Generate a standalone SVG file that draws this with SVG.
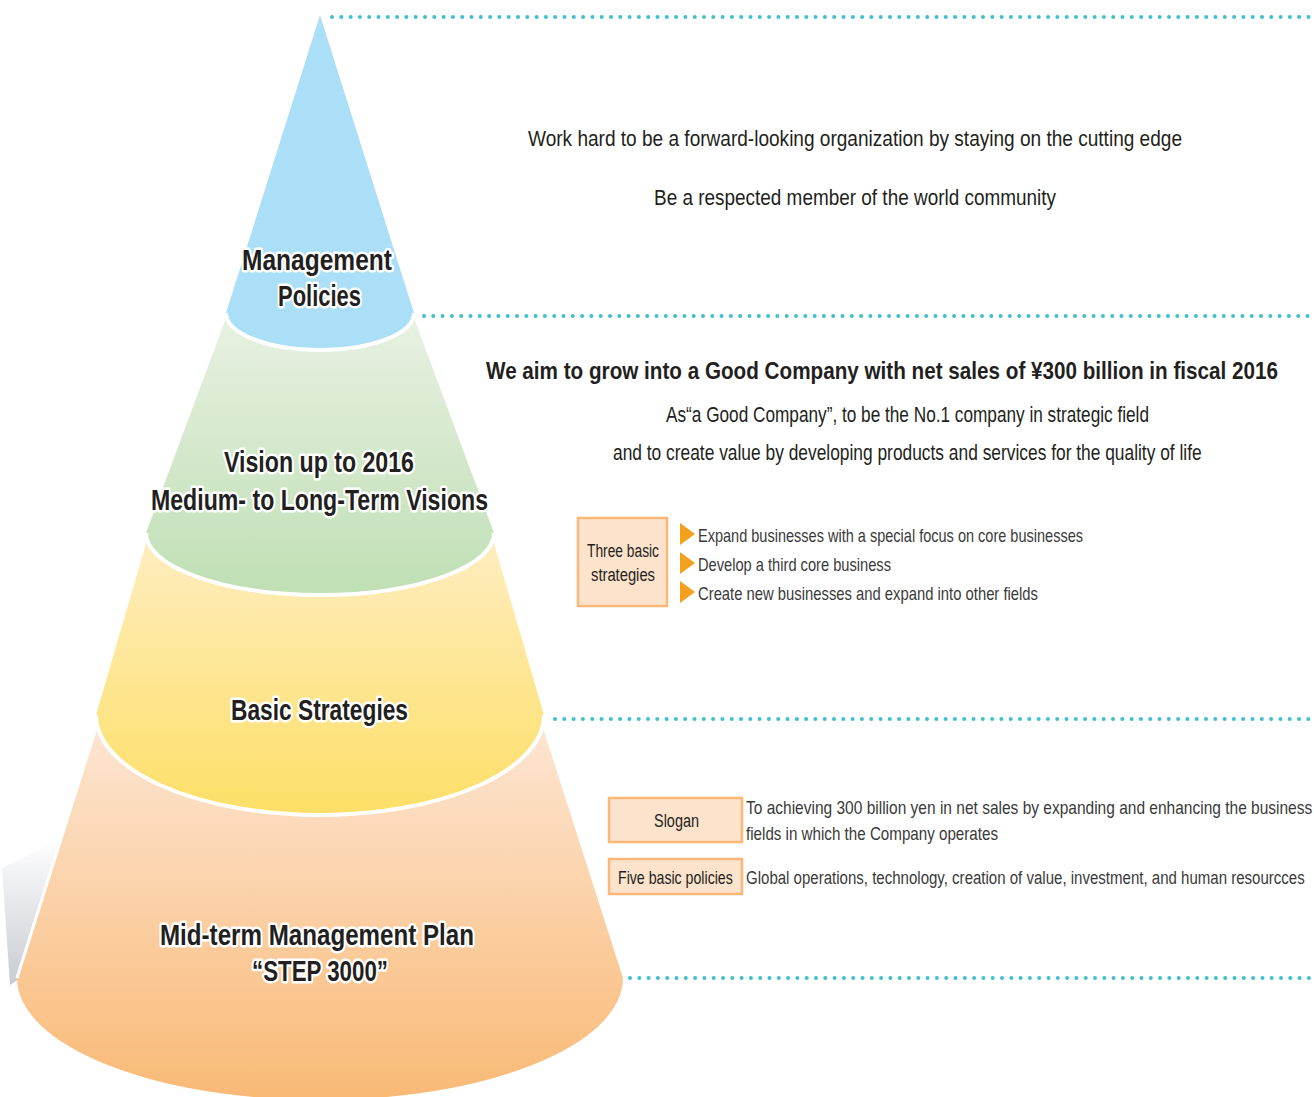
<svg xmlns="http://www.w3.org/2000/svg" width="1314" height="1097" viewBox="0 0 1314 1097">
<style>
.dot{stroke:#3fc0cc;stroke-width:4;stroke-linecap:round;stroke-dasharray:0 9.3;fill:none}
.rim{fill:none;stroke:#fff;stroke-width:4}
.lbl{font-family:"Liberation Sans",Arial,sans-serif;font-weight:bold;font-size:29px;fill:#231f20;stroke:#fff;stroke-width:5;stroke-linejoin:round;paint-order:stroke;text-anchor:start}
.t{font-family:"Liberation Sans",Arial,sans-serif;font-size:22px;fill:#231f20}
.tb{font-family:"Liberation Sans",Arial,sans-serif;font-size:24px;font-weight:bold;fill:#231f20}
.s{font-family:"Liberation Sans",Arial,sans-serif;font-size:19px;fill:#3a3a3a}
.bx{fill:#fde3cc;stroke:#f9b77a;stroke-width:2.5}
.bt{font-family:"Liberation Sans",Arial,sans-serif;font-size:18px;fill:#231f20}
.tri{fill:#f5a01c}
</style>
<defs>
<linearGradient id="gGreen" x1="0" y1="0" x2="0" y2="1"><stop offset="0" stop-color="#e8f1e2"/><stop offset="1" stop-color="#bfdfb4"/></linearGradient>
<linearGradient id="gYellow" x1="0" y1="0" x2="0" y2="1"><stop offset="0" stop-color="#feedc0"/><stop offset="1" stop-color="#fddf66"/></linearGradient>
<linearGradient id="gOrange" x1="0" y1="0" x2="0" y2="1"><stop offset="0" stop-color="#fde5d2"/><stop offset="1" stop-color="#f9b975"/></linearGradient>
<linearGradient id="gShadow" x1="0" y1="0" x2="0" y2="1"><stop offset="0" stop-color="#ffffff"/><stop offset="1" stop-color="#c9cbd3"/></linearGradient>
</defs>

<g id="connectors">
<line class="dot" x1="332" y1="17" x2="1314" y2="17"/>
<line class="dot" x1="424" y1="316" x2="1314" y2="316"/>
<line class="dot" x1="555" y1="719" x2="1314" y2="719"/>
<line class="dot" x1="630" y1="978" x2="1314" y2="978"/>
</g>

<g id="shadow">
<path d="M62,838 L2,868 L10,985 L18,980 Z" fill="url(#gShadow)"/>
</g>

<g id="tier-orange">
<path d="M96,728 L17,978 A303,122 0 0,0 623,978 L543,728 Z" fill="url(#gOrange)"/>
<line x1="96" y1="728" x2="17" y2="978" stroke="#fff" stroke-width="3"/>
<text class="lbl" x="160" y="945" textLength="314" lengthAdjust="spacingAndGlyphs">Mid-term Management Plan</text>
<text class="lbl" x="252" y="981" textLength="136" lengthAdjust="spacingAndGlyphs">“STEP 3000”</text>
</g>

<g id="tier-yellow">
<path d="M147,540 L96,715 A224,100 0 0,0 544,715 L493,540 Z" fill="url(#gYellow)"/>
<path class="rim" d="M96,715 A224,100 0 0,0 544,715"/>
<text class="lbl" x="231" y="720" textLength="177" lengthAdjust="spacingAndGlyphs">Basic Strategies</text>
</g>

<g id="tier-green">
<path d="M226,318 L146,533 A174,62 0 0,0 494,533 L414,318 Z" fill="url(#gGreen)"/>
<path class="rim" d="M146,533 A174,62 0 0,0 494,533"/>
<text class="lbl" x="224" y="472" textLength="190" lengthAdjust="spacingAndGlyphs">Vision up to 2016</text>
<text class="lbl" x="151" y="510" textLength="337" lengthAdjust="spacingAndGlyphs">Medium- to Long-Term Visions</text>
</g>

<g id="tier-blue">
<path d="M320,15 L226,313 A94,37 0 0,0 414,313 Z" fill="#abdff8"/>
<path class="rim" d="M226,313 A94,37 0 0,0 414,313"/>
<text class="lbl" x="242" y="270" textLength="150" lengthAdjust="spacingAndGlyphs">Management</text>
<text class="lbl" x="278" y="306" textLength="83" lengthAdjust="spacingAndGlyphs">Policies</text>
</g>

<g id="policies-text">
<text class="t" x="528" y="146" textLength="654" lengthAdjust="spacingAndGlyphs">Work hard to be a forward-looking organization by staying on the cutting edge</text>
<text class="t" x="654" y="205" textLength="402" lengthAdjust="spacingAndGlyphs">Be a respected member of the world community</text>
</g>

<g id="vision-text">
<text class="tb" transform="translate(486,379) scale(0.75,1)" x="0" y="0" textLength="1056" lengthAdjust="spacingAndGlyphs">We aim to grow into a Good Company with net sales of ¥300 billion in fiscal 2016</text>
<text class="t" x="666" y="422" textLength="483" lengthAdjust="spacingAndGlyphs" fill="#3a3a3a">As“a Good Company”, to be the No.1 company in strategic field</text>
<text class="t" transform="translate(613,460) scale(0.7,1)" x="0" y="0" textLength="841" lengthAdjust="spacingAndGlyphs" fill="#3a3a3a">and to create value by developing products and services for the quality of life</text>
</g>

<g id="three-strategies">
<rect class="bx" x="578" y="518" width="89" height="88"/>
<text class="bt" x="587" y="557" textLength="72" lengthAdjust="spacingAndGlyphs">Three basic</text>
<text class="bt" x="591" y="581" textLength="64" lengthAdjust="spacingAndGlyphs">strategies</text>
<polygon class="tri" points="680,523 695,534 680,545"/>
<polygon class="tri" points="680,552 695,563 680,574"/>
<polygon class="tri" points="680,581 695,592 680,603"/>
<text class="s" x="698" y="542" textLength="385" lengthAdjust="spacingAndGlyphs">Expand businesses with a special focus on core businesses</text>
<text class="s" x="698" y="571" textLength="193" lengthAdjust="spacingAndGlyphs">Develop a third core business</text>
<text class="s" x="698" y="600" textLength="340" lengthAdjust="spacingAndGlyphs">Create new businesses and expand into other fields</text>
</g>

<g id="slogan">
<rect class="bx" x="609" y="798" width="133" height="44"/>
<text class="bt" x="654" y="827" textLength="45" lengthAdjust="spacingAndGlyphs">Slogan</text>
<text class="s" transform="translate(746,814) scale(0.75,1)" x="0" y="0" textLength="755" lengthAdjust="spacingAndGlyphs">To achieving 300 billion yen in net sales by expanding and enhancing the business</text>
<text class="s" x="746" y="840" textLength="252" lengthAdjust="spacingAndGlyphs">fields in which the Company operates</text>
</g>

<g id="five-policies">
<rect class="bx" x="609" y="859" width="133" height="35"/>
<text class="bt" transform="translate(618,884) scale(0.7,1)" x="0" y="0" textLength="164" lengthAdjust="spacingAndGlyphs">Five basic policies</text>
<text class="s" transform="translate(746,884) scale(0.74,1)" x="0" y="0" textLength="755" lengthAdjust="spacingAndGlyphs">Global operations, technology, creation of value, investment, and human resourcces</text>
</g>
</svg>
